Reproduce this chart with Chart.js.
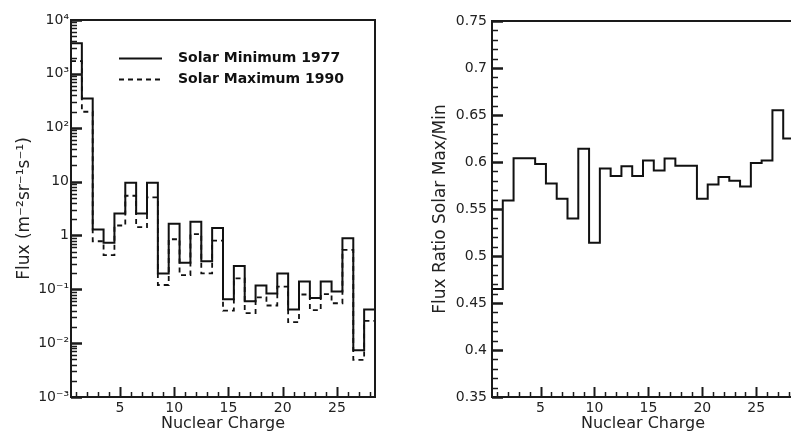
<!DOCTYPE html>
<html>
<head>
<meta charset="utf-8">
<script src="https://cdn.jsdelivr.net/npm/chart.js@4/dist/chart.umd.min.js"></script>
<style>
  html, body { margin:0; padding:0; background:#fff; }
  body { width:791px; height:437px; overflow:hidden; position:relative; }
  canvas { position:absolute; top:0; }
  #left { left:0; }
  #right { left:400px; }
</style>
</head>
<body>
<canvas id="left" width="395" height="437"></canvas>
<canvas id="right" width="420" height="437"></canvas>
<script>
// ---- data ----
const charge = [1,2,3,4,5,6,7,8,9,10,11,12,13,14,15,16,17,18,19,20,21,22,23,24,25,26,27,28];
const fluxMin1977 = [3700, 347, 1.29, 0.73, 2.56, 9.5, 2.56, 9.5, 0.197, 1.65, 0.31, 1.8, 0.333, 1.37,
                     0.065, 0.27, 0.06, 0.118, 0.0835, 0.197, 0.042, 0.14, 0.069, 0.14, 0.091, 0.89, 0.0074, 0.042];
const fluxMax1990 = [1730, 198, 0.78, 0.43, 1.53, 5.45, 1.43, 5.1, 0.12, 0.85, 0.183, 1.06, 0.198, 0.80,
                     0.040, 0.16, 0.036, 0.071, 0.050, 0.112, 0.0245, 0.080, 0.041, 0.081, 0.055, 0.54, 0.0049, 0.026];
const ratioMaxMin = [0.465, 0.559, 0.604, 0.604, 0.598, 0.577, 0.561, 0.540, 0.614, 0.514, 0.593, 0.585, 0.5955, 0.585,
                     0.6015, 0.591, 0.6036, 0.596, 0.596, 0.561, 0.576, 0.584, 0.580, 0.574, 0.599, 0.6015, 0.655, 0.625];
const xTickLabels = [5, 10, 15, 20, 25];
const fluxTickLabels = [1e-3, 1e-2, 1e-1, 1, 10, 1e2, 1e3, 1e4];
const ratioTickLabels = [0.35, 0.4, 0.45, 0.5, 0.55, 0.6, 0.65, 0.7, 0.75];
const seriesNames = ['Solar Minimum 1977', 'Solar Maximum 1990'];

// ---- helpers ----
const FONT = "'DejaVu Sans', 'Liberation Sans', Arial, sans-serif";
const TXT = '#222';
const sup = {'-':'\u207B','0':'\u2070','1':'\u00B9','2':'\u00B2','3':'\u00B3','4':'\u2074','5':'\u2075','6':'\u2076','7':'\u2077','8':'\u2078','9':'\u2079'};
function logLabel(v) {
  const e = Math.round(Math.log10(v));
  if (e === 0) return '1';
  if (e === 1) return '10';
  return '10' + String(e).split('').map(c => sup[c]).join('');
}
// bin edges: each value spans [z-0.5, z+0.5]
function histPoints(vals) {
  const pts = charge.map((z, i) => ({x: z - 0.5, y: vals[i]}));
  pts.push({x: charge[charge.length - 1] + 0.5, y: vals[vals.length - 1]});
  return pts;
}

const framePlugin = {
  id: 'frameTicks',
  afterDatasetsDraw(chart, args, opts) {
    const {ctx, chartArea: a} = chart;
    const xs = chart.scales.x, ys = chart.scales.y;
    ctx.save();
    ctx.strokeStyle = '#1a1a1a';
    for (const z of charge) {
      const major = xTickLabels.includes(z);
      const px = Math.round(xs.getPixelForValue(z)) + 0.5;
      ctx.lineWidth = major ? 2 : 1.5;
      ctx.beginPath(); ctx.moveTo(px, a.bottom); ctx.lineTo(px, a.bottom - (major ? 10 : 5)); ctx.stroke();
    }
    const yt = opts.yMinor(ys);
    for (const t of yt) {
      const py = Math.round(ys.getPixelForValue(t.v)) + 0.5;
      ctx.lineWidth = t.major ? 2.5 : 1.5;
      ctx.beginPath(); ctx.moveTo(a.left, py); ctx.lineTo(a.left + (t.major ? 11 : 6), py); ctx.stroke();
    }
    ctx.lineWidth = 2;
    ctx.strokeRect(a.left, a.top, a.right - a.left, a.bottom - a.top);
    ctx.restore();
  }
};

const legendPlugin = {
  id: 'customLegend',
  afterDraw(chart) {
    const {ctx} = chart;
    const ds = chart.data.datasets;
    const rows = [58, 79];
    ctx.save();
    ds.forEach((d, i) => {
      const y = rows[i] + 0.5;
      ctx.strokeStyle = '#111';
      ctx.lineWidth = 1.8;
      ctx.setLineDash(d.borderDash || []);
      ctx.beginPath(); ctx.moveTo(119, y); ctx.lineTo(162, y); ctx.stroke();
      ctx.setLineDash([]);
      ctx.fillStyle = '#111';
      ctx.font = "bold 14px " + FONT;
      ctx.textBaseline = 'middle';
      ctx.textAlign = 'left';
      ctx.fillText(d.label, 178, rows[i]);
    });
    ctx.restore();
  }
};

function xScale() {
  return {
    type: 'linear', min: 0.5, max: 28.5,
    afterBuildTicks: s => { s.ticks = xTickLabels.map(v => ({value: v})); },
    afterFit: s => { s.height = 40; },
    grid: {display: false, drawTicks: false},
    border: {display: false},
    ticks: {color: TXT, font: {family: FONT, size: 14}, padding: 3, maxRotation: 0, autoSkip: false,
             callback: v => String(v)},
    title: {display: true, text: 'Nuclear Charge', color: TXT, font: {family: FONT, size: 16},
            padding: {top: 0, bottom: 4}}
  };
}

// ---- left chart ----
new Chart(document.getElementById('left'), {
  type: 'line',
  data: {
    datasets: [
      {label: seriesNames[0], data: histPoints(fluxMin1977), stepped: 'before', borderColor: '#111',
       borderWidth: 2, pointRadius: 0, fill: false},
      {label: seriesNames[1], data: histPoints(fluxMax1990), stepped: 'before', borderColor: '#111',
       borderWidth: 1.8, borderDash: [5, 4], pointRadius: 0, fill: false}
    ]
  },
  options: {
    responsive: false, animation: false, devicePixelRatio: 1,
    layout: {padding: {top: 20, right: 20, bottom: 0, left: 0}},
    plugins: {legend: {display: false}, tooltip: {enabled: false},
      frameTicks: {yMinor: ys => {
        const out = [];
        for (let e = -3; e <= 4; e++) {
          out.push({v: Math.pow(10, e), major: true});
          if (e < 4) for (let m = 2; m <= 9; m++) out.push({v: m * Math.pow(10, e), major: false});
        }
        return out;
      }}},
    scales: {
      x: xScale(),
      y: {
        type: 'logarithmic', min: 1e-3, max: 1e4,
        afterBuildTicks: s => { s.ticks = fluxTickLabels.map(v => ({value: v})); },
        afterFit: s => { s.width = 71; },
        grid: {display: false, drawTicks: false},
        border: {display: false},
        ticks: {color: TXT, font: {family: FONT, size: 14}, padding: 2, autoSkip: false, callback: v => logLabel(v)},
        title: {display: true, text: 'Flux (m\u207B\u00B2sr\u207B\u00B9s\u207B\u00B9)', color: TXT,
                font: {family: FONT, size: 17}, padding: {top: 14, bottom: 0}}
      }
    }
  },
  plugins: [framePlugin, legendPlugin]
});

// ---- right chart ----
new Chart(document.getElementById('right'), {
  type: 'line',
  data: {
    datasets: [
      {label: 'Flux Ratio', data: histPoints(ratioMaxMin), stepped: 'before', borderColor: '#111',
       borderWidth: 2, pointRadius: 0, fill: false}
    ]
  },
  options: {
    responsive: false, animation: false, devicePixelRatio: 1,
    layout: {padding: {top: 21, right: 26, bottom: 0, left: 0}},
    plugins: {legend: {display: false}, tooltip: {enabled: false},
      frameTicks: {yMinor: ys => {
        const out = [];
        for (let k = 35; k <= 75; k++) out.push({v: k / 100, major: k % 5 === 0});
        return out;
      }}},
    scales: {
      x: xScale(),
      y: {
        type: 'linear', min: 0.35, max: 0.75,
        afterBuildTicks: s => { s.ticks = ratioTickLabels.map(v => ({value: v})); },
        afterFit: s => { s.width = 92; },
        grid: {display: false, drawTicks: false},
        border: {display: false},
        ticks: {color: TXT, font: {family: FONT, size: 14}, padding: 5, autoSkip: false, callback: v => String(v)},
        title: {display: true, text: 'Flux Ratio Solar Max/Min', color: TXT,
                font: {family: FONT, size: 17}, padding: {top: 30, bottom: 0}}
      }
    }
  },
  plugins: [framePlugin]
});
</script>
</body>
</html>
